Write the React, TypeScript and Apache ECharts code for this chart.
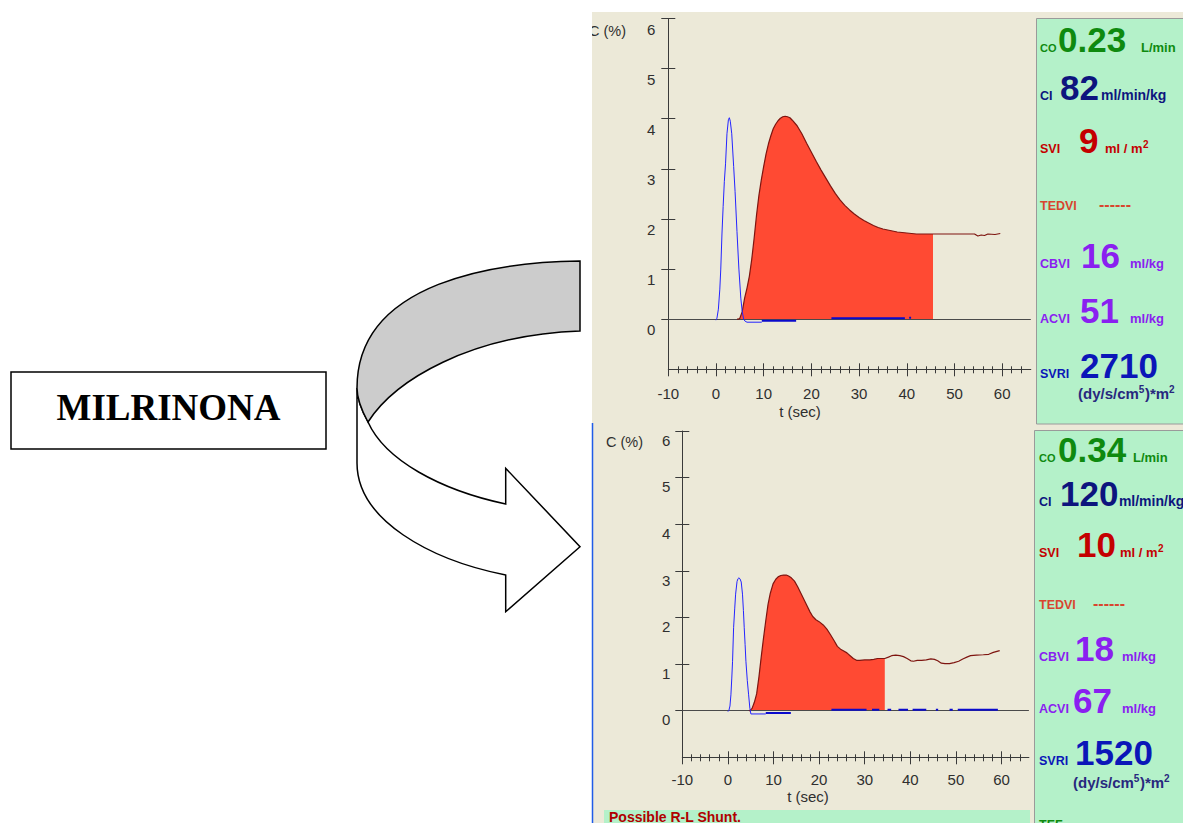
import React, { useEffect, useRef } from "react";
import * as echarts from "echarts";

// ---------- data ----------
const xTickValues = [-10, 0, 10, 20, 30, 40, 50, 60];
const yTickValues = [0, 1, 2, 3, 4, 5, 6];

// BEFORE milrinone (upper monitor)
const redBeforeT = [4.4, 4.7, 5, 5.5, 6, 6.5, 7, 7.5, 8, 8.5, 9, 9.5, 10, 10.5, 11, 11.5, 12, 12.5, 13, 13.5, 14, 14.5, 15, 15.5, 16, 17, 18, 19, 20, 21, 22, 23, 24, 25, 26, 27, 28, 29, 30, 31, 32, 33, 34, 35, 36, 37, 38, 39, 40, 41, 42, 44, 45.5, 48, 50, 52, 54.2, 54.9, 55.6, 56.3, 57, 58.5, 59.6];
const redBeforeV = [0, 0, 0.02, 0.15, 0.42, 0.62, 0.86, 1.2, 1.62, 2.08, 2.47, 2.78, 3.05, 3.3, 3.5, 3.66, 3.8, 3.89, 3.96, 4.01, 4.04, 4.05, 4.04, 4.02, 3.97, 3.86, 3.7, 3.51, 3.33, 3.15, 2.98, 2.82, 2.66, 2.51, 2.38, 2.27, 2.18, 2.1, 2.03, 1.97, 1.92, 1.87, 1.83, 1.8, 1.78, 1.76, 1.74, 1.73, 1.72, 1.71, 1.7, 1.7, 1.7, 1.7, 1.7, 1.7, 1.7, 1.66, 1.68, 1.67, 1.7, 1.69, 1.71];
const redBeforeCut = 45.5;
const blueBeforeT = [0, 0.2, 0.5, 0.8, 1.0, 1.25, 1.5, 1.75, 2.0, 2.3, 2.6, 2.8, 3.0, 3.3, 3.7, 4.0, 4.4, 4.8, 5.2, 5.5, 5.8, 6.1, 6.5, 9.6];
const blueBeforeV = [-0.02, 0.02, 0.2, 0.6, 1.0, 1.7, 2.25, 2.75, 3.1, 3.7, 3.98, 4.02, 3.95, 3.7, 3.05, 2.55, 1.75, 1.0, 0.42, 0.15, 0.0, -0.04, -0.06, -0.06];
const baseBeforeT = [9.6, 16.8, 16.8, 24.2, 39.6, 39.6, 40.5, 40.9];
const baseBeforeV = [-0.03, -0.03, null, 0.02, 0.02, null, 0.03, 0.03];

// AFTER milrinone (lower monitor)
const redAfterT = [4.6, 4.8, 5.3, 5.8, 6.3, 6.8, 7.3, 7.8, 8.3, 8.8, 9.3, 9.9, 10.5, 11, 11.6, 12.2, 12.8, 13.3, 13.9, 14.6, 15.3, 16.0, 16.7, 17.4, 18.0, 18.6, 19.3, 20.0, 20.9, 21.7, 22.5, 23.3, 24.0, 24.7, 25.4, 26.1, 26.8, 27.5, 28.2, 28.9, 30, 31.1, 32.0, 32.8, 34.4, 35.2, 35.9, 36.8, 37.7, 38.5, 39.3, 40.1, 40.7, 41.5, 42.5, 43.5, 44.5, 45.3, 46, 46.8, 47.6, 48.6, 49.6, 50.6, 51.5, 52.4, 53.2, 54.5, 56, 57.2, 58.2, 59.6];
const redAfterV = [0, 0, 0.05, 0.18, 0.36, 0.72, 1.15, 1.55, 1.93, 2.28, 2.52, 2.72, 2.82, 2.87, 2.9, 2.91, 2.91, 2.89, 2.85, 2.78, 2.66, 2.52, 2.38, 2.24, 2.12, 2.02, 1.95, 1.91, 1.84, 1.75, 1.63, 1.5, 1.38, 1.32, 1.28, 1.24, 1.18, 1.12, 1.08, 1.08, 1.09, 1.09, 1.1, 1.12, 1.12, 1.15, 1.18, 1.19, 1.18, 1.16, 1.12, 1.07, 1.06, 1.08, 1.08, 1.09, 1.11, 1.1, 1.07, 1.02, 1.01, 1.01, 1.03, 1.06, 1.11, 1.15, 1.18, 1.19, 1.2, 1.21, 1.25, 1.29];
const redAfterCut = 34.4;
const blueAfterT = [0, 0.2, 0.45, 0.66, 0.85, 1.02, 1.25, 1.5, 1.69, 2.0, 2.2, 2.41, 2.65, 2.92, 3.2, 3.4, 3.58, 3.77, 3.95, 4.25, 4.54, 4.82, 5.04, 8.3];
const blueAfterV = [-0.02, 0.0, 0.1, 0.34, 0.7, 1.06, 1.78, 2.2, 2.5, 2.77, 2.83, 2.85, 2.83, 2.76, 2.5, 2.15, 1.78, 1.42, 1.06, 0.65, 0.34, 0.05, -0.07, -0.07];
const baseAfterT = [8.3, 13.8, 13.8, 22.7, 30.4, 30.4, 31.6, 33.2, 33.2, 35.0, 35.8, 35.8, 37.4, 39.5, 39.5, 40.5, 43.5, 43.5, 45.6, 46.1, 46.1, 48.6, 49.3, 49.3, 50.4, 59.2];
const baseAfterV = [-0.05, -0.05, null, 0.02, 0.02, null, 0.02, 0.02, null, 0.02, 0.02, null, 0.02, 0.02, null, 0.02, 0.02, null, 0.02, 0.02, null, 0.02, 0.02, null, 0.02, 0.02];

// hemodynamic panel
const metricLabels = ["CO", "CI", "SVI", "TEDVI", "CBVI", "ACVI", "SVRI"];
const beforeValues = ["0.23", "82", "9", "------", "16", "51", "2710"];
const afterValues = ["0.34", "120", "10", "------", "18", "67", "1520"];
const metricUnits = ["L/min", "ml/min/kg", "ml / m", "", "ml/kg", "ml/kg", ""];
const metricUnitSup = ["", "", "2", "", "", "", ""];

// ---------- styling ----------
const FONT = '"Liberation Sans", Arial, sans-serif';
const SERIF = '"Liberation Serif", "Times New Roman", serif';
const BEIGE = "#ECE9D8";
const GREEN = "#B4F1C9";
const AXIS = "#3A3A3A";
const metricColors = ["#0F8A0F", "#0D157E", "#C40000", "#D8452E", "#8A20F0", "#8A20F0", "#0B16B8"];
const unitLineColor = "#28287E";

const dGray = "M580 261 C500 262 357 280 357 388 C357 400 362 411 368 422 C395 380 470 335 580 331 Z";
const dWhite = "M357 388 L357 463 C357 520 430 560 505.7 575 L505.7 611.7 L580 546.7 L505.7 468.3 L505.7 504 C440 490 385 460 368 422 C362 411 357 400 357 388 Z";
echarts.graphic.registerShape("arrowGray", echarts.graphic.extendPath(dGray, {}));
echarts.graphic.registerShape("arrowWhite", echarts.graphic.extendPath(dWhite, {}));

let ctx: CanvasRenderingContext2D | null = null;
function measure(text: string, size: number, bold = true) {
  if (!ctx) ctx = document.createElement("canvas").getContext("2d");
  ctx!.font = `${bold ? "bold " : ""}${size}px ${FONT}`;
  return ctx!.measureText(text).width;
}

function T(x: number, base: number, text: string, size: number, color: string, bold = true) {
  return {
    type: "text", x, y: base - 0.35 * size, z: 20, silent: true,
    style: { text, fontSize: size, fontWeight: bold ? "bold" : "normal", fontFamily: FONT, fill: color, align: "left", verticalAlign: "middle" },
  };
}
function C(x: number, cy: number, text: string, size: number, color: string, align = "center") {
  return {
    type: "text", x, y: cy, z: 20, silent: true,
    style: { text, fontSize: size, fontWeight: "normal", fontFamily: FONT, fill: color, align, verticalAlign: "middle" },
  };
}

type Layout = { labelX: number; bases: number[]; valueX: number[]; unitX: (number | null)[]; unitLine: [number, number]; tef?: number };
const layoutBefore: Layout = {
  labelX: 1040, bases: [52, 100, 153, 210, 268, 323, 378],
  valueX: [1058, 1060, 1079, 1099, 1081, 1080, 1080],
  unitX: [1141, 1101, 1105, null, 1130, 1130, null], unitLine: [1078, 399],
};
const layoutAfter: Layout = {
  labelX: 1039, bases: [462, 506, 557, 609, 661, 713, 765],
  valueX: [1058, 1060, 1077, 1093, 1075, 1073, 1075],
  unitX: [1133, 1117, 1120, null, 1122, 1122, null], unitLine: [1073, 788], tef: 829,
};

function panelTexts(values: string[], L: Layout) {
  const els: any[] = [];
  metricLabels.forEach((lab, i) => {
    const base = L.bases[i];
    const col = metricColors[i];
    els.push(T(L.labelX, base, lab, i === 0 ? 11 : 12.5, col));
    const vs = i === 3 ? 16 : 35;
    els.push(T(L.valueX[i], base, values[i], vs, col));
    const ux0 = L.unitX[i];
    if (ux0 !== null && metricUnits[i]) {
      const us = i === 1 ? 14 : 13;
      const ux = Math.max(ux0, L.valueX[i] + measure(values[i], vs) + 0.5);
      els.push(T(ux, base, metricUnits[i], us, col));
      if (metricUnitSup[i]) els.push(T(ux + measure(metricUnits[i], us) + 0.5, base - 5, metricUnitSup[i], 10, col));
    }
  });
  // SVRI unit line: (dy/s/cm5)*m2
  let x = L.unitLine[0];
  const b = L.unitLine[1];
  const parts: [string, number, number][] = [["(dy/s/cm", 15, 0], ["5", 10, 6], [")*m", 15, 0], ["2", 10, 6]];
  parts.forEach(([t, s, r]) => {
    els.push(T(x, b - r, t, s, unitLineColor));
    x += measure(t, s) + (r ? 0.5 : 0);
  });
  if (L.tef) els.push(T(L.labelX, L.tef, "TEF", 12.5, metricColors[0]));
  return els;
}

const zip = (t: number[], v: (number | null)[]) => t.map((x, i) => [x, v[i] === null ? "-" : v[i]]);

function xAxes(grid: number, margin: number) {
  const common = { type: "value", gridIndex: grid, min: -10, max: 66, interval: 10, position: "bottom", splitLine: { show: false } };
  return [
    {
      ...common,
      axisLine: { show: true, onZero: false, lineStyle: { color: AXIS, width: 1 } },
      axisTick: { show: true, inside: false, length: 7, customValues: xTickValues, lineStyle: { color: AXIS } },
      minorTick: { show: true, splitNumber: 5, length: 4, lineStyle: { color: AXIS } },
      axisLabel: { show: true, customValues: xTickValues, margin, fontSize: 15, color: "#2F2F2F", fontFamily: FONT, formatter: (v: number) => (v === 66 ? "" : String(v)) },
    },
    {
      ...common,
      axisLine: { show: false, onZero: false },
      axisTick: { show: true, inside: true, length: 6, customValues: xTickValues, lineStyle: { color: AXIS } },
      minorTick: { show: true, splitNumber: 5, length: 3, lineStyle: { color: AXIS } },
      axisLabel: { show: false },
    },
  ];
}
function yAxes(grid: number, margin: number, lh: number) {
  const common = { type: "value", gridIndex: grid, min: -1, max: 6, interval: 1, position: "left", splitLine: { show: false } };
  return [
    {
      ...common,
      axisLine: { show: true, onZero: false, lineStyle: { color: AXIS, width: 1 } },
      axisTick: { show: true, inside: false, length: 7, customValues: yTickValues, lineStyle: { color: AXIS } },
      axisLabel: { show: true, customValues: yTickValues, margin, fontSize: 15, color: "#2F2F2F", fontFamily: FONT, verticalAlign: "top", lineHeight: lh, formatter: (v: number) => (v < 0 ? "" : String(v)) },
    },
    {
      ...common,
      axisLine: { show: false, onZero: false },
      axisTick: { show: true, inside: true, length: 7, customValues: yTickValues, lineStyle: { color: AXIS } },
      axisLabel: { show: false },
    },
  ];
}

function curveSeries(axis: number, rT: number[], rV: number[], cut: number, bT: number[], bV: number[], sT: number[], sV: (number | null)[]) {
  const red = zip(rT, rV);
  return [
    {
      type: "line", xAxisIndex: axis, yAxisIndex: axis, z: 2, showSymbol: false, silent: true,
      data: red.filter((p) => (p[0] as number) <= cut),
      lineStyle: { width: 0, opacity: 0 }, areaStyle: { color: "#FF4A33", opacity: 1 },
      markLine: { silent: true, z: 3, symbol: ["none", "none"], label: { show: false }, lineStyle: { color: "#4A4A4A", width: 1, type: "solid" }, data: [{ yAxis: 0 }] },
    },
    {
      type: "line", xAxisIndex: axis, yAxisIndex: axis, z: 3, showSymbol: false, silent: true,
      data: red, lineStyle: { color: "#7E1510", width: 1.2 },
    },
    {
      type: "line", xAxisIndex: axis, yAxisIndex: axis, z: 5, showSymbol: false, silent: true,
      data: zip(bT, bV), lineStyle: { color: "#2424FF", width: 1 },
    },
    {
      type: "line", xAxisIndex: axis, yAxisIndex: axis, z: 5, showSymbol: false, silent: true, connectNulls: false,
      data: zip(sT, sV), lineStyle: { color: "#0A0ACC", width: 2 },
    },
  ];
}

function buildOption() {
  const graphics: any[] = [
    { type: "rect", z: -5, silent: true, shape: { x: 592, y: 12, width: 591, height: 811 }, style: { fill: BEIGE } },
    { type: "rect", z: -4, silent: true, shape: { x: 1036.5, y: 18.5, width: 150, height: 405.5 }, style: { fill: GREEN, stroke: "#9A9A9A", lineWidth: 1 } },
    { type: "rect", z: -4, silent: true, shape: { x: 1034.5, y: 430.5, width: 150, height: 400 }, style: { fill: GREEN, stroke: "#9A9A9A", lineWidth: 1 } },
    { type: "rect", z: -4, silent: true, shape: { x: 604, y: 810, width: 426, height: 20 }, style: { fill: GREEN } },
    { type: "line", z: -3, silent: true, shape: { x1: 592.5, y1: 423, x2: 592.5, y2: 823 }, style: { stroke: "#1F5CE8", lineWidth: 1.5 } },
    // left: drug box + arrow
    { type: "rect", z: 1, silent: true, shape: { x: 11, y: 372, width: 315, height: 77 }, style: { fill: "#FFFFFF", stroke: "#000000", lineWidth: 1.5 } },
    { type: "text", z: 2, silent: true, x: 168.5, y: 407, style: { text: "MILRINONA", fontFamily: SERIF, fontWeight: "bold", fontSize: 37, fill: "#000000", align: "center", verticalAlign: "middle" } },
    { type: "arrowWhite", z: 1, silent: true, x: 0, y: 0, scaleX: 1, scaleY: 1, style: { fill: "#FFFFFF", stroke: "#000000", lineWidth: 1.5, lineJoin: "miter" } },
    { type: "arrowGray", z: 1, silent: true, x: 0, y: 0, scaleX: 1, scaleY: 1, style: { fill: "#CCCCCC", stroke: "#000000", lineWidth: 1.5, lineJoin: "miter" } },
    // axis captions
    C(589, 30.8, "C (%)", 14.5, "#2F2F2F", "left"),
    C(606, 441.7, "C (%)", 14.5, "#2F2F2F", "left"),
    C(800, 411.7, "t (sec)", 15, "#2F2F2F"),
    C(808, 796.5, "t (sec)", 15, "#2F2F2F"),
    { type: "rect", z: 30, silent: true, shape: { x: 560, y: 12, width: 32, height: 40 }, style: { fill: "#FFFFFF" } },
    T(609, 822, "Possible R-L Shunt.", 14, "#B00000"),
    ...panelTexts(beforeValues, layoutBefore),
    ...panelTexts(afterValues, layoutAfter),
  ];

  return {
    animation: false,
    textStyle: { fontFamily: FONT },
    grid: [
      { left: 668.3, top: 18.5, width: 362.5, height: 350.8, show: false },
      { left: 682.3, top: 431, width: 346.6, height: 326.3, show: false },
    ],
    xAxis: [...xAxes(0, 16.5), ...xAxes(1, 14.5)],
    yAxis: [...yAxes(0, 13, 21), ...yAxes(1, 12, 18.6)],
    series: [
      ...curveSeries(0, redBeforeT, redBeforeV, redBeforeCut, blueBeforeT, blueBeforeV, baseBeforeT, baseBeforeV),
      ...curveSeries(2, redAfterT, redAfterV, redAfterCut, blueAfterT, blueAfterV, baseAfterT, baseAfterV),
    ],
    graphic: { elements: graphics },
  };
}

export default function App() {
  const ref = useRef<HTMLDivElement>(null);
  useEffect(() => {
    if (!ref.current) return;
    const chart = echarts.init(ref.current, undefined, { renderer: "svg" });
    chart.setOption(buildOption() as any);
    return () => chart.dispose();
  }, []);
  return <div ref={ref} style={{ position: "absolute", left: 0, top: 0, width: 1183, height: 823 }} />;
}
